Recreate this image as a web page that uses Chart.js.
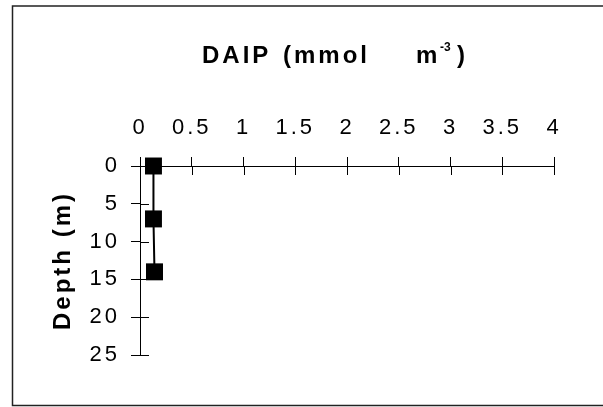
<!DOCTYPE html>
<html>
<head>
<meta charset="utf-8">
<script src="https://cdn.jsdelivr.net/npm/chart.js@4/dist/chart.umd.min.js"></script>
<style>
html,body{margin:0;padding:0;background:#fff;}
#wrap{position:relative;width:603px;height:407px;}
</style>
</head>
<body>
<div id="wrap"><canvas id="c" width="603" height="407"></canvas></div>
<script>
// Data
const depths = [0, 7, 14];              // m
const daip = [0.13, 0.13, 0.14];        // mmol m-3
const xTickLabels = ['0','0.5','1','1.5','2','2.5','3','3.5','4'];
const yTickLabels = ['0','5','10','15','20','25'];
const titleParts = ['DAIP', '(mmol', 'm', '-3', ')'];
const yTitle = 'Depth (m)';

const points = depths.map((d, i) => ({x: daip[i], y: d}));
const FONT = "'Liberation Sans', Arial, Helvetica, sans-serif";
const SPACING = '3px';

const spacingPlugin = {
  id: 'spacing',
  beforeUpdate(chart) { chart.ctx.letterSpacing = SPACING; },
  beforeLayout(chart) { chart.ctx.letterSpacing = SPACING; },
  beforeDraw(chart) { chart.ctx.letterSpacing = SPACING; }
};

const innerTicks = {
  id: 'innerTicks',
  beforeDatasetsDraw(chart) {
    const ctx = chart.ctx, xs = chart.scales.x, ys = chart.scales.y;
    ctx.save();
    ctx.strokeStyle = '#000';
    ctx.lineWidth = 1;
    xs.ticks.forEach((t, i) => {
      const px = Math.round(xs.getPixelForTick(i)) + 0.5;
      ctx.beginPath(); ctx.moveTo(px, ys.top); ctx.lineTo(px, ys.top + 9); ctx.stroke();
    });
    ys.ticks.forEach((t, i) => {
      const py = Math.round(ys.getPixelForTick(i)) + 0.5;
      ctx.beginPath(); ctx.moveTo(xs.left, py); ctx.lineTo(xs.left + 9, py); ctx.stroke();
    });
    ctx.restore();
  }
};

const titleAndFrame = {
  id: 'titleAndFrame',
  afterDraw(chart) {
    const ctx = chart.ctx, a = chart.chartArea;
    ctx.save();
    ctx.fillStyle = '#000';
    ctx.textBaseline = 'alphabetic';
    ctx.textAlign = 'left';
    ctx.letterSpacing = '3px';
    ctx.font = 'bold 24px ' + FONT;
    const base = 63;
    ctx.fillText(titleParts[0], a.left + 62, base);
    ctx.fillText(titleParts[1], a.left + 143, base);
    ctx.fillText(titleParts[2], a.left + 276, base);
    ctx.fillText(titleParts[4], a.left + 317, base);
    ctx.letterSpacing = '0px';
    ctx.font = 'bold 12px ' + FONT;
    ctx.fillText(titleParts[3], a.left + 300, base - 12);
    // outer frame: top, left, bottom (no right edge in the reference)
    ctx.strokeStyle = '#222';
    ctx.lineWidth = 1.5;
    ctx.beginPath();
    ctx.moveTo(603, 6);
    ctx.lineTo(12.5, 6);
    ctx.lineTo(12.5, 405.5);
    ctx.lineTo(603, 405.5);
    ctx.stroke();
    ctx.restore();
  }
};

new Chart(document.getElementById('c'), {
  type: 'scatter',
  data: {
    datasets: [{
      data: points,
      showLine: true,
      borderColor: '#000',
      borderWidth: 2,
      backgroundColor: '#000',
      pointStyle: 'rect',
      pointRadius: 12,
      pointHoverRadius: 12,
      pointBorderWidth: 0,
      clip: false
    }]
  },
  options: {
    responsive: false,
    animation: false,
    devicePixelRatio: 1,
    events: [],
    layout: { padding: { left: 12, right: 49, top: 70, bottom: 52 } },
    plugins: {
      legend: { display: false },
      tooltip: { enabled: false },
      title: { display: false }
    },
    scales: {
      x: {
        type: 'linear',
        position: 'top',
        min: 0, max: 4,
        afterFit(s) { s.height = 96; },
        afterBuildTicks(s) { s.ticks = xTickLabels.map((l, i) => ({value: i * 0.5})); },
        ticks: {
          stepSize: 0.5,
          color: '#000',
          padding: 16,
          maxRotation: 0,
          autoSkip: false,
          font: { family: FONT, size: 22 },
          callback: (v, i) => xTickLabels[i]
        },
        grid: { drawOnChartArea: false, drawTicks: true, tickLength: 9, tickColor: '#000', tickWidth: 1 },
        border: { display: true, color: '#000', width: 1 }
      },
      y: {
        type: 'linear',
        position: 'left',
        reverse: true,
        min: 0, max: 25,
        afterFit(s) { s.width = 128; },
        afterBuildTicks(s) { s.ticks = yTickLabels.map((l, i) => ({value: i * 5})); },
        ticks: {
          stepSize: 5,
          color: '#000',
          padding: 11,
          autoSkip: false,
          font: { family: FONT, size: 22 },
          callback: (v, i) => yTickLabels[i]
        },
        title: {
          display: true,
          text: yTitle,
          color: '#000',
          font: { family: FONT, size: 24, weight: 'bold' },
          padding: { top: 37, bottom: 0 }
        },
        grid: { drawOnChartArea: false, drawTicks: true, tickLength: 9, tickColor: '#000', tickWidth: 1 },
        border: { display: true, color: '#000', width: 1 }
      }
    }
  },
  plugins: [spacingPlugin, innerTicks, titleAndFrame]
});
</script>
</body>
</html>
